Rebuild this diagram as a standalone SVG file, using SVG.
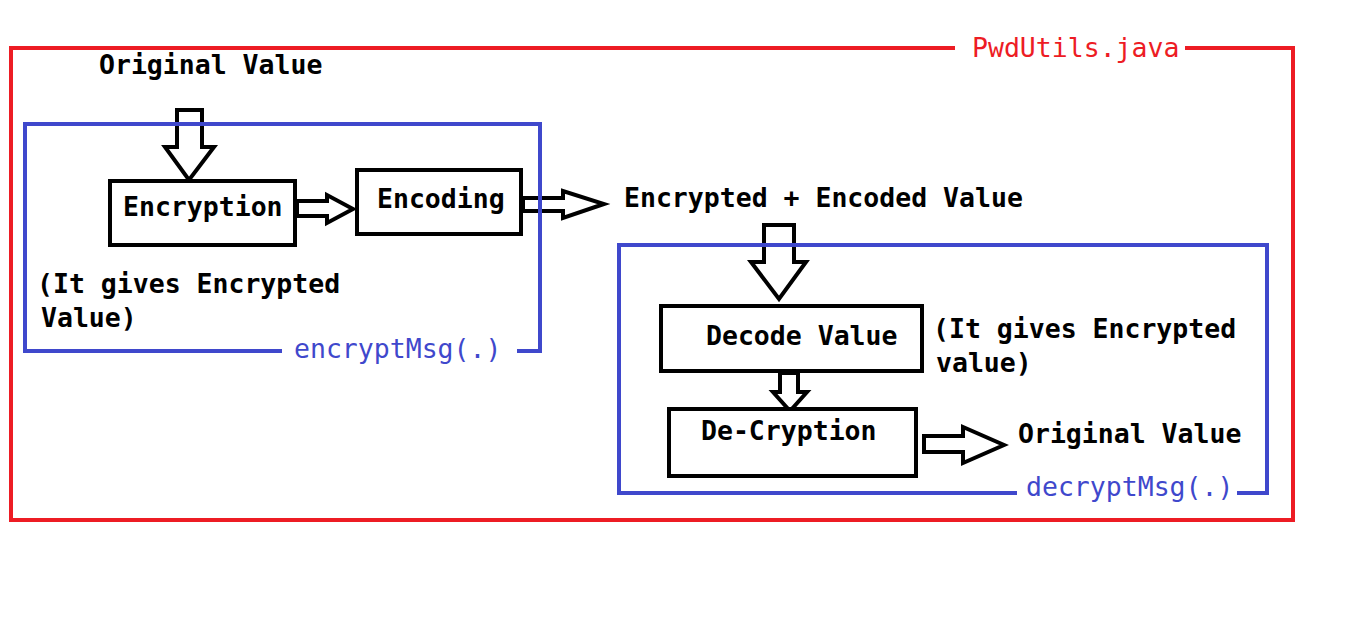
<svg xmlns="http://www.w3.org/2000/svg" width="1348" height="617" viewBox="0 0 1348 617">
<style>
.t{font-family:"DejaVu Sans Mono","Liberation Mono",monospace;font-size:26.5px}
.b{font-weight:bold;fill:#000}
.box{fill:#fff;stroke:#000;stroke-width:4}
.arr{fill:#fff;stroke:#000;stroke-width:4;stroke-linejoin:miter}
.red{fill:none;stroke:#ed1c24;stroke-width:4}
.blue{fill:none;stroke:#3f48cc;stroke-width:4}
</style>
<rect width="1348" height="617" fill="#fff"/>
<g id="pwdutils">
<path class="red" d="M955,48 H11 V520 H1293 V48 H1185"/>
<text class="t" x="972" y="57" fill="#ed1c24">PwdUtils.java</text>
</g>
<g id="connectors">
<polygon class="arr" points="177,110 202,110 202,147 214,147 189,180 165,147 177,147"/>
<polygon class="arr" points="297,201 327,201 327,195 353,209 327,223 327,216 297,216"/>
<polygon class="arr" points="523,198 563,198 563,191 604,204 563,218 563,211 523,211"/>
<polygon class="arr" points="764,225 794,225 794,262 806,262 779,299 751,262 764,262"/>
<polygon class="arr" points="780,373 798,373 798,392 807,392 790,411 773,392 780,392"/>
<polygon class="arr" points="924,436 963,436 963,427 1004,445 963,463 963,452 924,452"/>
</g>
<g id="original-value-in">
<text class="t b" x="99" y="74">Original Value</text>
</g>
<g id="encryption">
<rect class="box" x="110" y="181" width="185" height="64"/>
<text class="t b" x="123" y="216">Encryption</text>
</g>
<g id="encoding">
<rect class="box" x="357" y="170" width="164" height="64"/>
<text class="t b" x="377" y="208">Encoding</text>
</g>
<g id="note-encrypted-1">
<text class="t b" x="37" y="293">(It gives Encrypted</text>
<text class="t b" x="41" y="327">Value)</text>
</g>
<g id="encrypted-encoded-value">
<text class="t b" x="624" y="207">Encrypted + Encoded Value</text>
</g>
<g id="decode-value">
<rect class="box" x="661" y="306" width="261" height="65"/>
<text class="t b" x="706" y="345">Decode Value</text>
</g>
<g id="note-encrypted-2">
<text class="t b" x="933" y="338">(It gives Encrypted</text>
<text class="t b" x="936" y="372">value)</text>
</g>
<g id="de-cryption">
<rect class="box" x="669" y="409" width="247" height="67"/>
<text class="t b" x="701" y="440">De-Cryption</text>
</g>
<g id="original-value-out">
<text class="t b" x="1018" y="443">Original Value</text>
</g>
<g id="encryptMsg">
<path class="blue" d="M282,351 H25 V124 H540 V351 H517"/>
<text class="t" x="294" y="358" fill="#3f48cc">encryptMsg(.)</text>
</g>
<g id="decryptMsg">
<path class="blue" d="M1017,493 H619 V245 H1267 V493 H1237"/>
<text class="t" x="1026" y="496" fill="#3f48cc">decryptMsg(.)</text>
</g>
</svg>
